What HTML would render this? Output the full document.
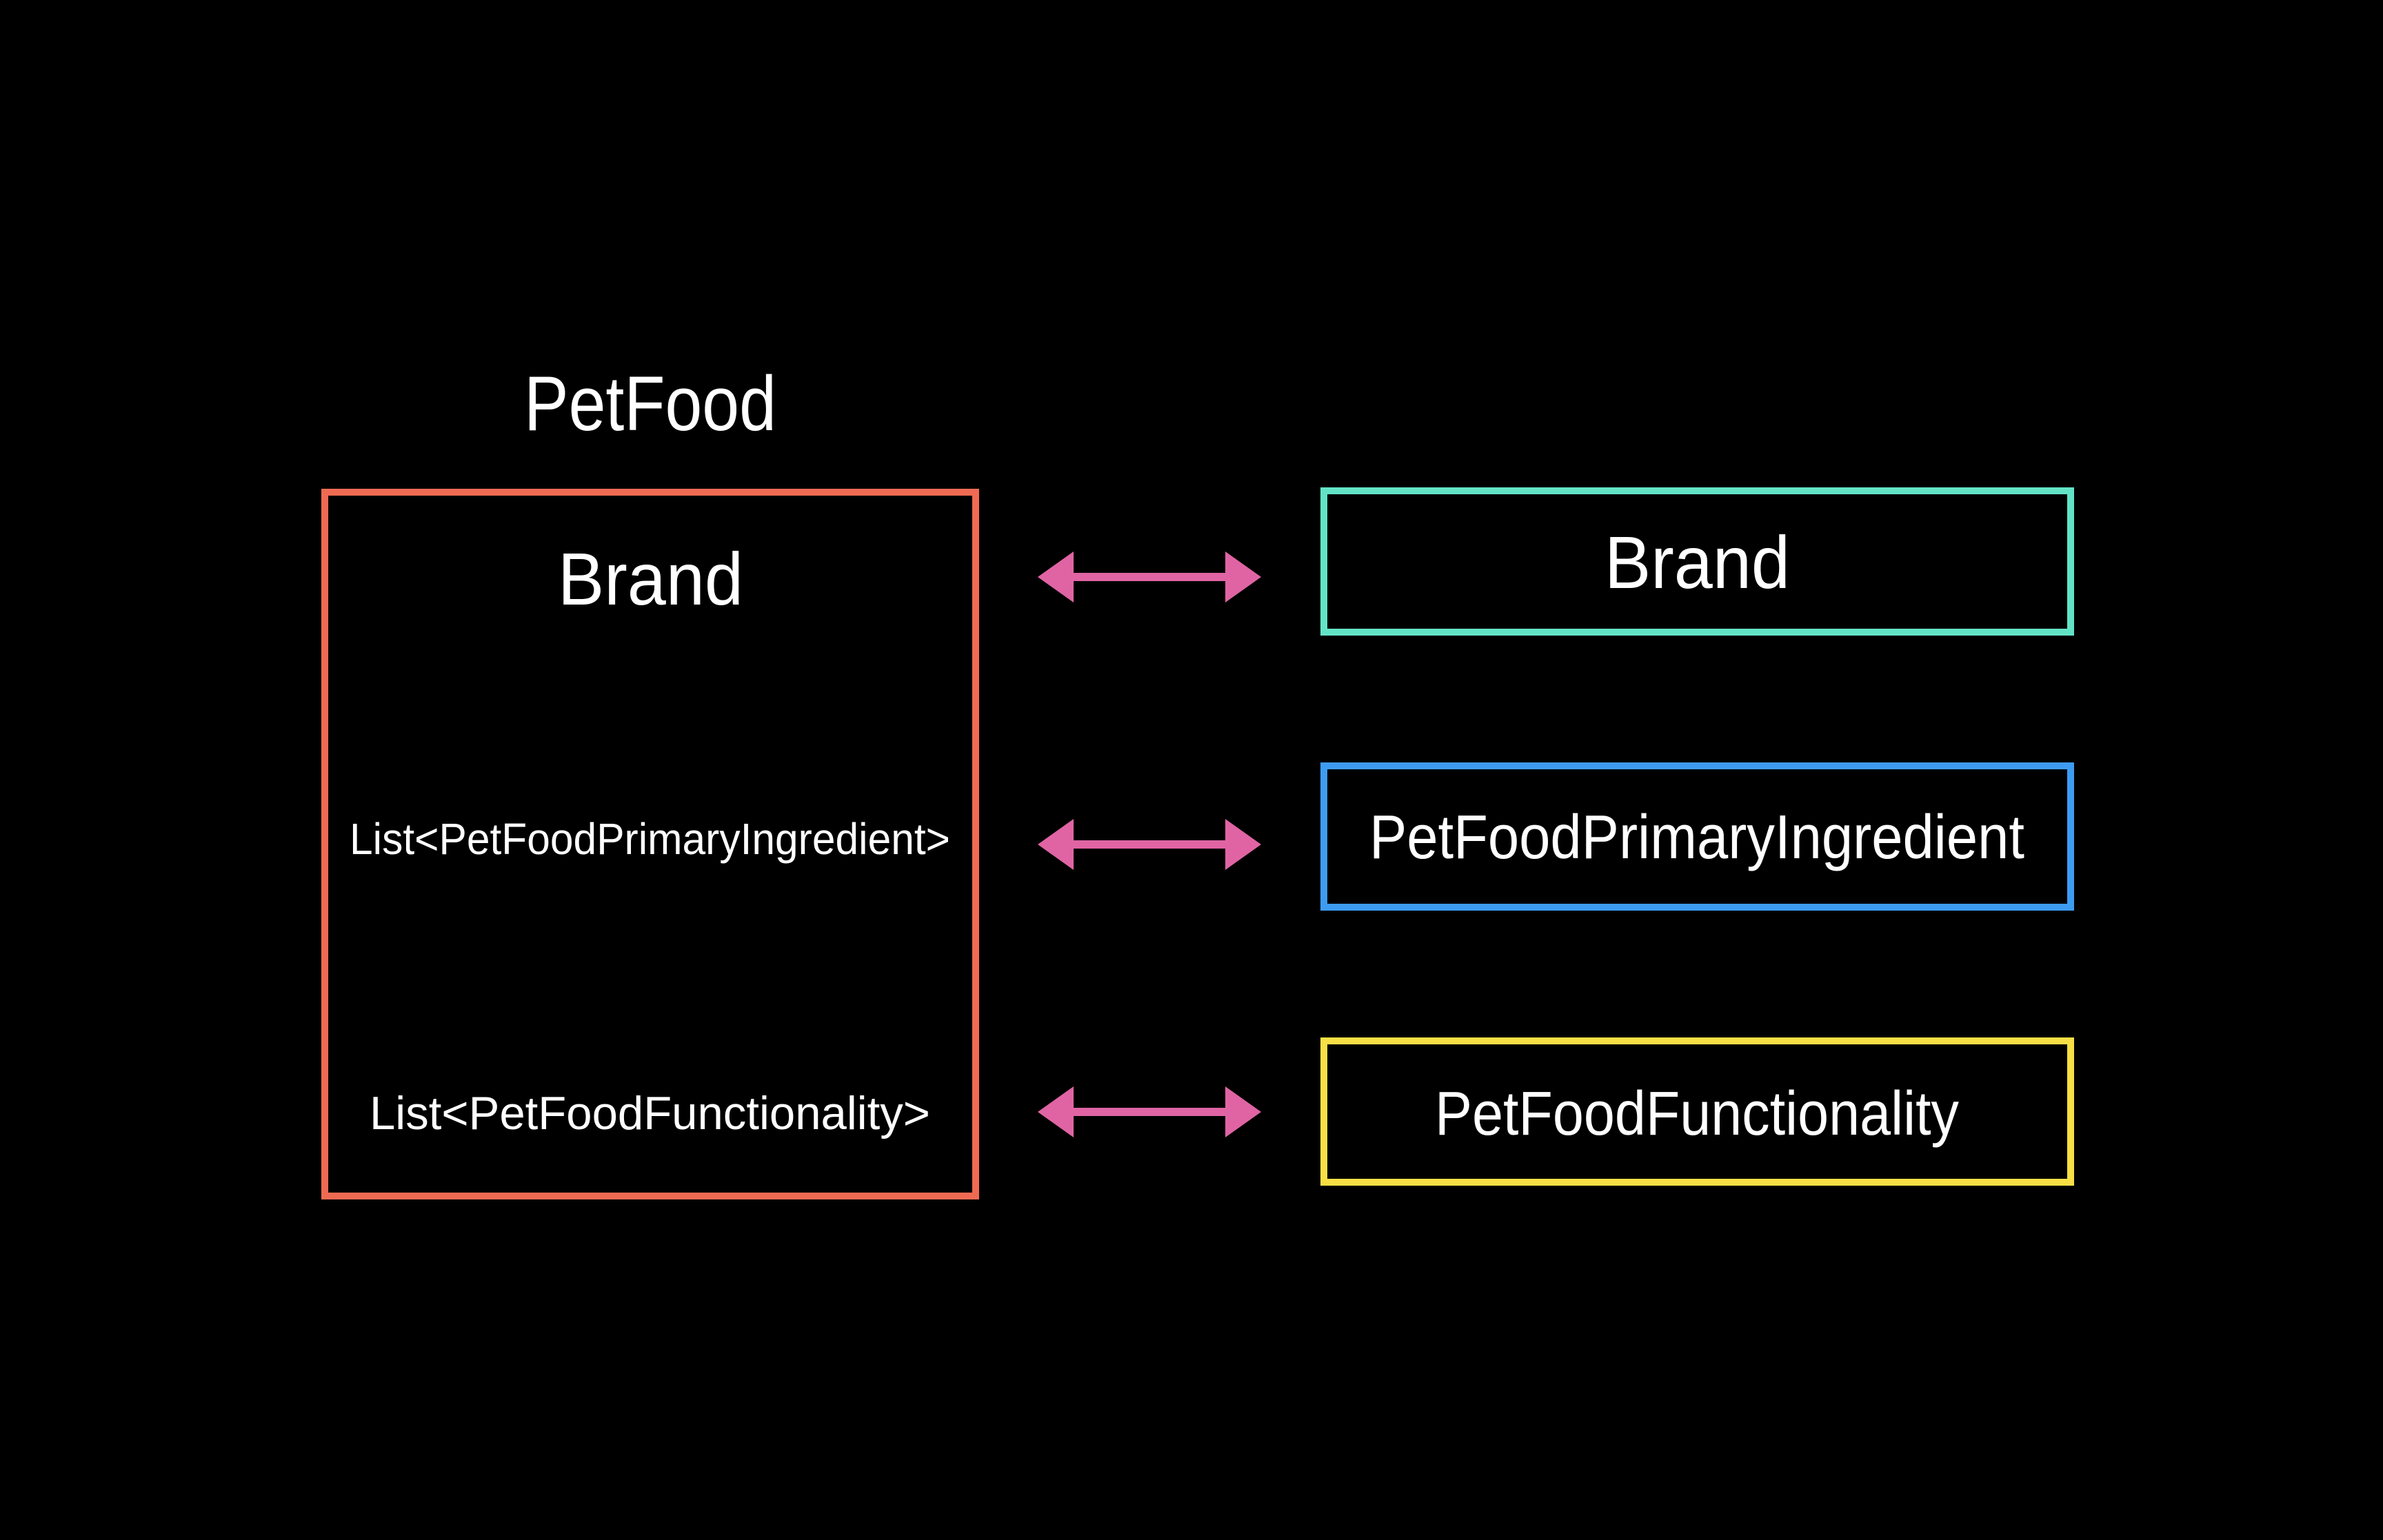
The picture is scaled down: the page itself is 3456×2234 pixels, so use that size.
<!DOCTYPE html>
<html><head><meta charset="utf-8"><style>
html,body{margin:0;padding:0;background:#000;}
svg{display:block;}
text{font-family:"Liberation Sans",sans-serif;fill:#fff;}
</style></head><body>
<svg width="3456" height="2234" viewBox="0 0 3456 2234" xmlns="http://www.w3.org/2000/svg">
<rect width="3456" height="2234" fill="#000"/>
<text x="760" y="624" font-size="112" textLength="366" lengthAdjust="spacingAndGlyphs">PetFood</text>
<rect x="471" y="714" width="944" height="1021" fill="none" stroke="#ef6a52" stroke-width="10"/>
<text x="809" y="877" font-size="108" textLength="269" lengthAdjust="spacingAndGlyphs">Brand</text>
<text x="507" y="1239" font-size="64" textLength="871" lengthAdjust="spacingAndGlyphs">List&lt;PetFoodPrimaryIngredient&gt;</text>
<text x="536" y="1638" font-size="68" textLength="813" lengthAdjust="spacingAndGlyphs">List&lt;PetFoodFunctionality&gt;</text>

<rect x="1920" y="712" width="1083" height="205" fill="none" stroke="#62e3c6" stroke-width="10"/>
<rect x="1920" y="1111" width="1083" height="205" fill="none" stroke="#3d9cf2" stroke-width="10"/>
<rect x="1920" y="1510" width="1083" height="205" fill="none" stroke="#f7df45" stroke-width="10"/>
<text x="2327" y="853" font-size="108" textLength="269" lengthAdjust="spacingAndGlyphs">Brand</text>
<text x="1986" y="1245" font-size="90" textLength="950" lengthAdjust="spacingAndGlyphs">PetFoodPrimaryIngredient</text>
<text x="2081" y="1646" font-size="90" textLength="760" lengthAdjust="spacingAndGlyphs">PetFoodFunctionality</text>

<g fill="#e064a4">
<path d="M1505 837 L1557 800 L1557 831 L1777 831 L1777 800 L1829 837 L1777 874 L1777 843 L1557 843 L1557 874 Z"/>
<path d="M1505 1225 L1557 1188 L1557 1219 L1777 1219 L1777 1188 L1829 1225 L1777 1262 L1777 1231 L1557 1231 L1557 1262 Z"/>
<path d="M1505 1613 L1557 1576 L1557 1607 L1777 1607 L1777 1576 L1829 1613 L1777 1650 L1777 1619 L1557 1619 L1557 1650 Z"/>
</g>
</svg>
</body></html>
